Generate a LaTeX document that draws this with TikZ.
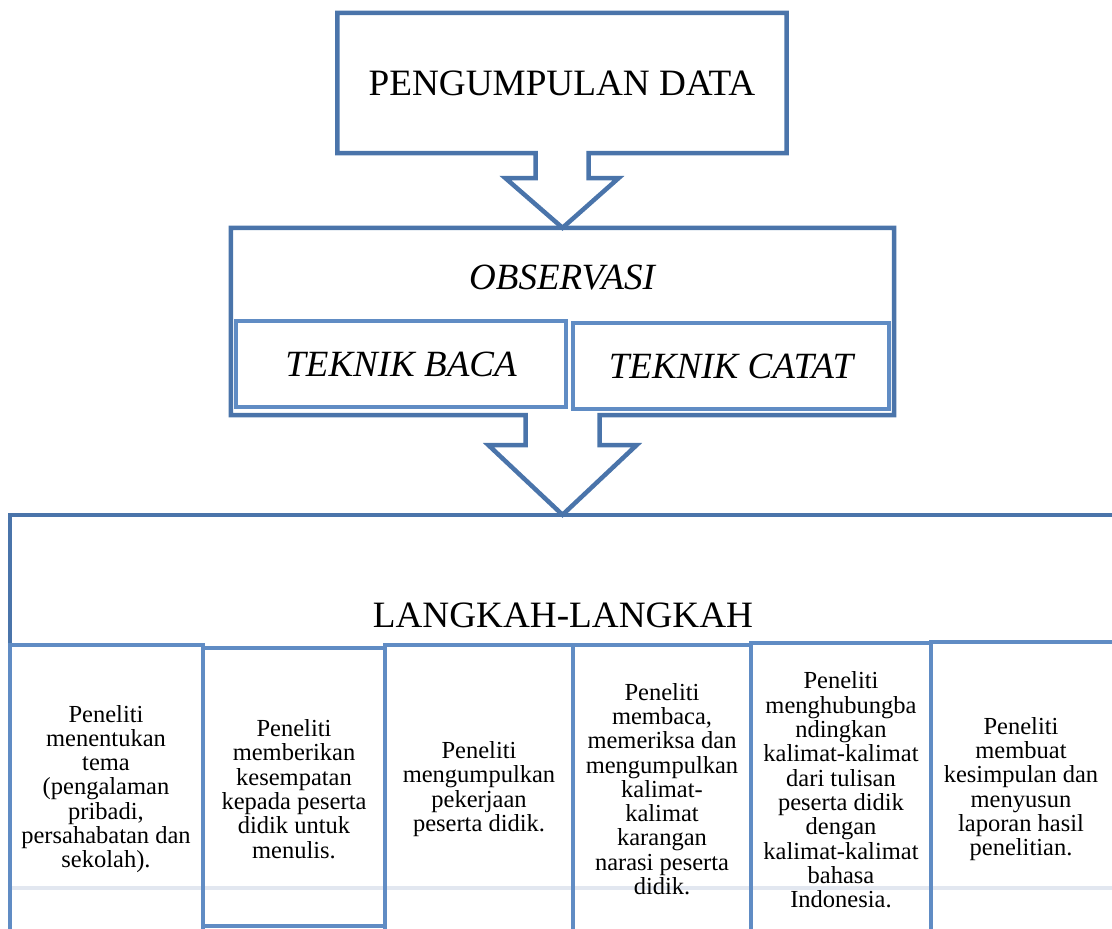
\documentclass[tikz,border=0pt]{standalone}
\usepackage{fontspec}
\setmainfont{Liberation Serif}
\usetikzlibrary{calc}
\definecolor{mainblue}{RGB}{74,116,170}
\definecolor{subblue}{RGB}{96,140,196}
\definecolor{paleline}{RGB}{226,231,240}
\begin{document}
\begin{tikzpicture}[x=1pt,y=-1pt,
  callout/.style={draw=mainblue, line width=4.5pt, line join=miter},
  subbox/.style={draw=subblue, line width=4.2pt, rectangle, inner sep=0pt},
  hidden/.style={rectangle, inner sep=0pt},
  big/.style={font=\fontsize{37.2}{43}\selectfont},
  bigit/.style={font=\fontsize{37}{43}\selectfont\itshape},
  small/.style={font=\fontsize{24.5}{24.3}\selectfont, align=center, inner sep=0pt}]
\clip (0,0) rectangle (1112,929);
% nodes
\node[hidden, minimum width=449pt, minimum height=140pt] (pd) at (562,83) {};
\node[hidden, minimum width=663pt, minimum height=187pt] (obs) at (562.5,321.5) {};
\node[hidden, minimum width=1110pt, minimum height=373pt] (lang) at (565,701.5) {};
% pale bottom line of big box
\draw[draw=paleline, line width=4pt] (lang.south west) -- (lang.south east);
% big box
\draw[callout] (lang.south west) -- (lang.north west) -- (lang.north east);
% callout 1
\draw[callout] ([xshift=-26.5pt]pd.south) -- (pd.south west) -- (pd.north west) -- (pd.north east) -- (pd.south east)
  -- ([xshift=26.5pt]pd.south) -- ([xshift=26.5pt,yshift=-25pt]pd.south) -- ([xshift=56.5pt,yshift=-25pt]pd.south)
  -- (obs.north) -- ([xshift=-56.5pt,yshift=-25pt]pd.south) -- ([xshift=-26.5pt,yshift=-25pt]pd.south) -- cycle;
% callout 2
\coordinate (tip2) at (obs.south |- lang.north);
\draw[callout] ([xshift=-37pt]obs.south) -- (obs.south west) -- (obs.north west) -- (obs.north east) -- (obs.south east)
  -- ([xshift=37pt]obs.south) -- ([xshift=37pt,yshift=-30pt]obs.south) -- ([xshift=74pt,yshift=-30pt]obs.south)
  -- (tip2) -- ([xshift=-74pt,yshift=-30pt]obs.south) -- ([xshift=-37pt,yshift=-30pt]obs.south) -- cycle;
% texts of big boxes
\node[big] (pdt) at (pd.center) {PENGUMPULAN DATA};
\node[bigit] (obst) at (562,278) {OBSERVASI};
\node[subbox, minimum width=330pt, minimum height=86pt, bigit] (baca) at (401,364) {TEKNIK BACA};
\node[subbox, minimum width=316pt, minimum height=86pt, bigit] (catat) at (731,366) {TEKNIK CATAT};
\node[big] (langt) at (563,615) {LANGKAH-LANGKAH};
% sub boxes
\node[subbox, minimum width=193pt, minimum height=288pt] (s1) at (106.5,789) {};
\node[subbox, minimum width=182pt, minimum height=278pt] (s2) at (294,787) {};
\node[subbox, minimum width=188pt, minimum height=288pt] (s3) at (479,789) {};
\node[subbox, minimum width=178pt, minimum height=288pt] (s4) at (662,789) {};
\node[subbox, minimum width=180pt, minimum height=290pt] (s5) at (841,788) {};
\node[subbox, minimum width=190pt, minimum height=291pt] (s6) at (1026,787.5) {};
\node[small] (t1) at (106,789) {Peneliti\\menentukan\\tema\\(pengalaman\\pribadi,\\persahabatan dan\\sekolah).};
\node[small] (t2) at (294,789) {Peneliti\\memberikan\\kesempatan\\kepada peserta\\didik untuk\\menulis.};
\node[small] (t3) at (479,789) {Peneliti\\mengumpulkan\\pekerjaan\\peserta didik.};
\node[small] (t4) at (662,789) {Peneliti\\membaca,\\memeriksa dan\\mengumpulkan\\kalimat-\\kalimat\\karangan\\narasi peserta\\didik.};
\node[small] (t5) at (841,790) {Peneliti\\menghubungba\\ndingkan\\kalimat-kalimat\\dari tulisan\\peserta didik\\dengan\\kalimat-kalimat\\bahasa\\Indonesia.};
\node[small] (t6) at (1021,789) {Peneliti\\membuat\\kesimpulan dan\\menyusun\\laporan hasil\\penelitian.};
\end{tikzpicture}
\end{document}
